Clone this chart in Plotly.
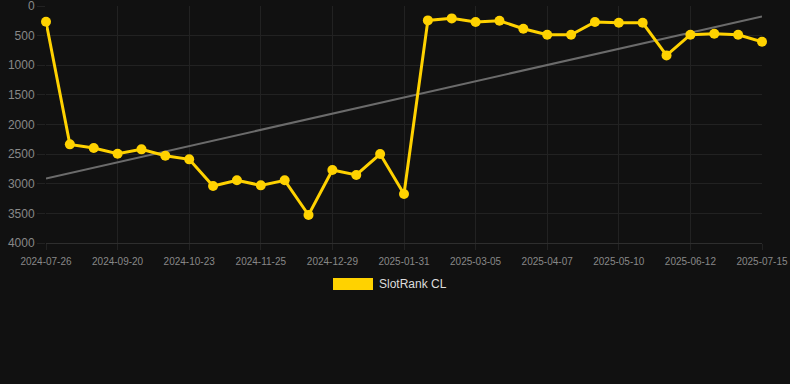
import numpy as np
import plotly.graph_objects as go

tick_labels = ["2024-07-26", "2024-09-20", "2024-10-23", "2024-11-25", "2024-12-29",
               "2025-01-31", "2025-03-05", "2025-04-07", "2025-05-10", "2025-06-12", "2025-07-15"]
ranks = [265, 2335, 2397, 2492, 2419, 2526, 2588, 3038, 2942, 3027, 2942, 3527, 2768, 2852,
         2498, 3173, 242, 208, 270, 248, 383, 484, 484, 270, 282, 282, 833, 484, 467, 484, 602]
series_name = "SlotRank CL"
y_ticks = [0, 500, 1000, 1500, 2000, 2500, 3000, 3500, 4000]

idx = np.arange(len(ranks))
slope, intercept = np.polyfit(idx, ranks, 1)
trend = slope * idx + intercept

fig = go.Figure()
fig.add_trace(go.Scatter(x=idx, y=trend, mode="lines", line=dict(color="#6b6b6b", width=2),
                         showlegend=False, hoverinfo="skip"))
fig.add_trace(go.Scatter(x=idx, y=ranks, mode="lines+markers", name=series_name,
                         line=dict(color="#FFD200", width=3),
                         marker=dict(color="#FFD200", size=10), cliponaxis=False, showlegend=False))

fig.update_layout(
    width=790, height=384,
    paper_bgcolor="#111111", plot_bgcolor="#111111",
    margin=dict(l=46, r=28, t=6, b=141),
    font=dict(family="Liberation Sans, Arial", color="#888888"),
    xaxis=dict(range=[0, 30], tickvals=list(range(0, 31, 3)), ticktext=tick_labels,
               showgrid=True, gridcolor="#222222", zeroline=False,
               showline=True, linecolor="#2e2e2e", linewidth=1,
               tickfont=dict(size=10, color="#888888"), ticks="outside", ticklen=6,
               tickcolor="#222222", ticklabelstandoff=3, automargin=False),
    yaxis=dict(range=[4000, -1], tickvals=y_ticks, showgrid=True, gridcolor="#222222",
               zeroline=False, showline=False, tickfont=dict(size=12, color="#888888"),
               ticks="outside", ticklen=8, tickcolor="#222222", ticklabelstandoff=0,
               ticklabeloverflow="allow", automargin=False),
    showlegend=False,
)
fig.add_shape(type="rect", xref="paper", yref="paper",
              x0=(333 - 46) / 716, x1=(373 - 46) / 716,
              y0=(243 - 290) / 237, y1=(243 - 278) / 237,
              fillcolor="#FFD200", line=dict(width=0))
fig.add_annotation(xref="paper", yref="paper", x=(377 - 46) / 716, y=(243 - 284) / 237,
                   text=series_name, showarrow=False, xanchor="left", yanchor="middle",
                   font=dict(size=12, color="#dddddd"))
fig.write_html("out.html", config={"displayModeBar": False},
               post_script="document.body.style.margin='0';document.body.style.background='#111111';")
